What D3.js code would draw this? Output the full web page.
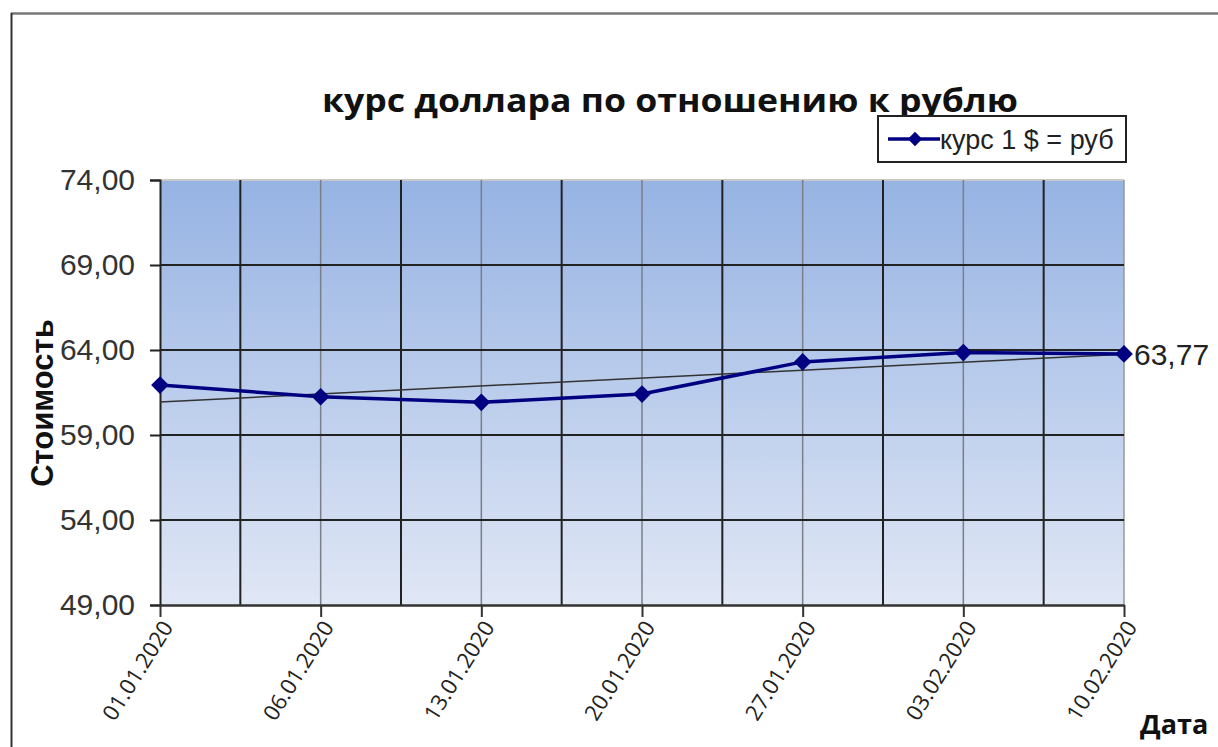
<!DOCTYPE html>
<html>
<head>
<meta charset="utf-8">
<script src="https://cdn.jsdelivr.net/npm/d3@7"></script>
<style>
  body { margin: 0; background: #fff; }
  svg { display: block; }
</style>
</head>
<body>
<script>
// data
const dates = ["01.01.2020", "06.01.2020", "13.01.2020", "20.01.2020", "27.01.2020", "03.02.2020", "10.02.2020"];
const rates = [61.94, 61.25, 60.92, 61.41, 63.30, 63.85, 63.77];
const yTicks = [49, 54, 59, 64, 69, 74];

const seriesName = "курс 1 $ = руб";
const title = "курс доллара по отношению к рублю";

// dimensions
const dms = {
    width: 1218,
    height: 747,
    margins: { top: 180, right: 94, bottom: 142, left: 160 }
};
dms.innerWidth = dms.width - dms.margins.left - dms.margins.right;
dms.innerHeight = dms.height - dms.margins.top - dms.margins.bottom;

const svg = d3.select("body")
    .append("svg")
    .attr("width", dms.width)
    .attr("height", dms.height);

// chart frame (cropped)
svg.append("line")
    .attr("x1", 11).attr("x2", dms.width).attr("y1", 13.5).attr("y2", 13.5)
    .attr("stroke", "#777").attr("stroke-width", 2.5);
svg.append("line")
    .attr("x1", 11.5).attr("x2", 11.5).attr("y1", 13).attr("y2", dms.height)
    .attr("stroke", "#333").attr("stroke-width", 2);

const defs = svg.append("defs");
const grad = defs.append("linearGradient")
    .attr("id", "bg").attr("x1", 0).attr("x2", 0).attr("y1", 0).attr("y2", 1);
grad.append("stop").attr("offset", "0%").attr("stop-color", "#96b3e3");
grad.append("stop").attr("offset", "100%").attr("stop-color", "#e0e7f5");

const g = svg.append("g")
    .attr("transform", `translate(${dms.margins.left},${dms.margins.top})`);

// scales
const xScale = d3.scalePoint()
    .domain(dates)
    .range([0, dms.innerWidth]);

const yScale = d3.scaleLinear()
    .domain([49, 74])
    .range([dms.innerHeight, 0]);

// plot background
g.append("rect")
    .attr("width", dms.innerWidth)
    .attr("height", dms.innerHeight)
    .attr("fill", "url(#bg)");
g.append("line")
    .attr("x1", 0).attr("x2", dms.innerWidth).attr("y1", 0).attr("y2", 0)
    .attr("stroke", "#c8c8c8").attr("stroke-width", 2);
g.append("line")
    .attr("x1", dms.innerWidth).attr("x2", dms.innerWidth).attr("y1", 0).attr("y2", dms.innerHeight)
    .attr("stroke", "#999").attr("stroke-width", 1.5);

// vertical grid: gray on categories, dark between
const step = xScale.step();
g.append("g")
    .selectAll("line")
    .data(dates.slice(1, -1))
    .join("line")
    .attr("x1", d => xScale(d)).attr("x2", d => xScale(d))
    .attr("y1", 0).attr("y2", dms.innerHeight)
    .attr("stroke", "#7a7f88").attr("stroke-width", 1.5);
g.append("g")
    .selectAll("line")
    .data(dates.slice(0, -1))
    .join("line")
    .attr("x1", d => xScale(d) + step / 2).attr("x2", d => xScale(d) + step / 2)
    .attr("y1", 0).attr("y2", dms.innerHeight)
    .attr("stroke", "#222").attr("stroke-width", 2);

// horizontal grid
g.append("g")
    .selectAll("line")
    .data(yTicks.slice(1, -1))
    .join("line")
    .attr("x1", 0).attr("x2", dms.innerWidth)
    .attr("y1", d => yScale(d)).attr("y2", d => yScale(d))
    .attr("stroke", "#222").attr("stroke-width", 2);

// axes
const fmt = d => d3.format(".2f")(d).replace(".", ",");
const yAxis = g.append("g")
    .call(d3.axisLeft(yScale).tickValues(yTicks).tickFormat(fmt).tickSize(10).tickPadding(15));
yAxis.select(".domain").attr("stroke", "#222").attr("stroke-width", 2);
yAxis.selectAll(".tick line").attr("stroke", "#222").attr("stroke-width", 2);
yAxis.selectAll("text")
    .attr("fill", "#333")
    .style("font-family", "Liberation Sans, Arial, sans-serif")
    .style("font-size", "30px");

const xAxis = g.append("g")
    .attr("transform", `translate(0,${dms.innerHeight})`)
    .call(d3.axisBottom(xScale).tickSize(12).tickSizeOuter(0));
xAxis.select(".domain").attr("stroke", "#333").attr("stroke-width", 2.5);
xAxis.selectAll(".tick line").attr("stroke", "#333").attr("stroke-width", 2);
xAxis.selectAll("text")
    .attr("fill", "#222")
    .style("font-family", "Open Sans, sans-serif")
    .style("font-size", "22px")
    .attr("text-anchor", "end")
    .attr("transform", "translate(7,18) rotate(-58)")
    .attr("dy", "0.35em")
    .attr("y", 0)
    .attr("x", 0);

// trend line (least squares)
const xs = dates.map((d, i) => i);
const mx = d3.mean(xs), my = d3.mean(rates);
const slope = d3.sum(xs, (x, i) => (x - mx) * (rates[i] - my)) / d3.sum(xs, x => (x - mx) ** 2);
const icpt = my - slope * mx;
g.append("line")
    .attr("x1", xScale(dates[0])).attr("y1", yScale(icpt))
    .attr("x2", xScale(dates[dates.length - 1])).attr("y2", yScale(icpt + slope * (dates.length - 1)))
    .attr("stroke", "#333").attr("stroke-width", 1.5);

// series line
const line = d3.line()
    .x((d, i) => xScale(dates[i]))
    .y(d => yScale(d));
g.append("path")
    .datum(rates)
    .attr("d", line)
    .attr("fill", "none")
    .attr("stroke", "#000080")
    .attr("stroke-width", 3.5);

const diamond = d3.symbol().type(d3.symbolDiamond2).size(200);
g.selectAll(".pt")
    .data(rates)
    .join("path")
    .attr("class", "pt")
    .attr("d", diamond)
    .attr("transform", (d, i) => `translate(${xScale(dates[i])},${yScale(d)})`)
    .attr("fill", "#000080");

// data label on last point
g.append("text")
    .attr("x", xScale(dates[dates.length - 1]) + 10)
    .attr("y", yScale(rates[rates.length - 1]))
    .attr("dy", "0.36em")
    .attr("fill", "#222")
    .style("font-family", "Liberation Sans, Arial, sans-serif")
    .style("font-size", "30px")
    .text(fmt(rates[rates.length - 1]));

// title
svg.append("text")
    .attr("x", 670)
    .attr("y", 112)
    .attr("text-anchor", "middle")
    .attr("fill", "#111")
    .attr("textLength", 696)
    .attr("lengthAdjust", "spacingAndGlyphs")
    .style("font-family", "Open Sans, sans-serif")
    .style("font-weight", "bold")
    .style("font-size", "33px")
    .text(title);

// legend
const lg = svg.append("g").attr("transform", "translate(878,116)");
lg.append("rect")
    .attr("width", 248).attr("height", 46)
    .attr("fill", "#fff").attr("stroke", "#222").attr("stroke-width", 2);
lg.append("line")
    .attr("x1", 10).attr("x2", 62).attr("y1", 23).attr("y2", 23)
    .attr("stroke", "#000080").attr("stroke-width", 3.5);
lg.append("path")
    .attr("d", d3.symbol().type(d3.symbolDiamond2).size(130))
    .attr("transform", "translate(37,23)")
    .attr("fill", "#000080");
lg.append("text")
    .attr("x", 62).attr("y", 24).attr("dy", "0.35em")
    .attr("fill", "#222")
    .style("font-family", "Liberation Sans, Arial, sans-serif")
    .style("font-size", "27px")
    .text(seriesName);

// axis titles
svg.append("text")
    .attr("transform", "translate(53,403) rotate(-90)")
    .attr("text-anchor", "middle")
    .attr("fill", "#111")
    .style("font-family", "Liberation Sans, Arial, sans-serif")
    .style("font-weight", "bold")
    .style("font-size", "31px")
    .text("Стоимость");

svg.append("text")
    .attr("x", 1140).attr("y", 734)
    .attr("fill", "#111")
    .style("font-family", "Open Sans, sans-serif")
    .style("font-weight", "bold")
    .style("font-size", "27px")
    .text("Дата");
</script>
</body>
</html>
